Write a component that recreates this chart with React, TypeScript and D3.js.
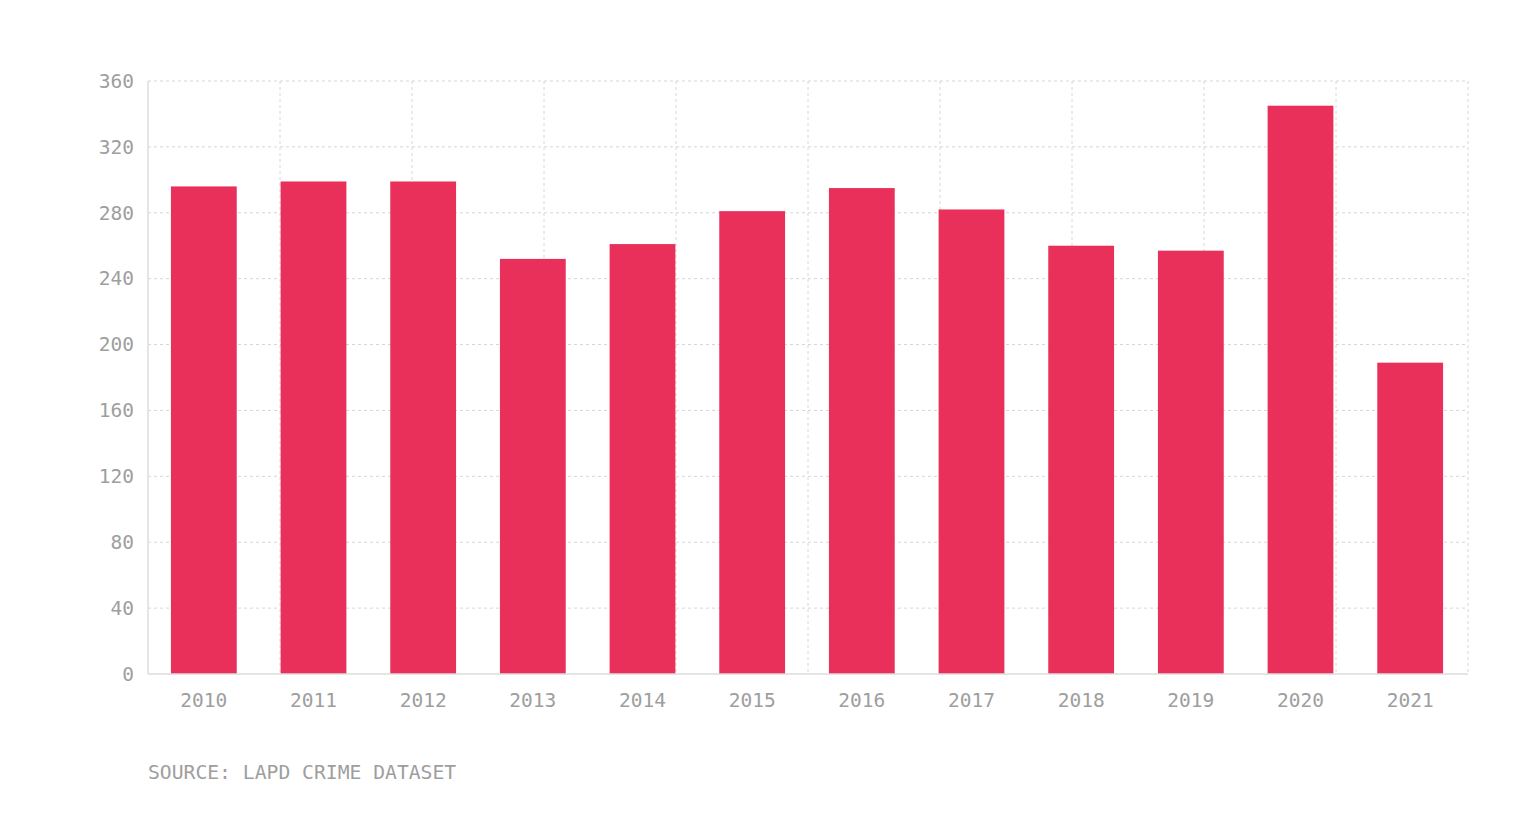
import React from "react";
import * as d3 from "d3";

const years = ["2010","2011","2012","2013","2014","2015","2016","2017","2018","2019","2020","2021"];
const counts = [296, 299, 299, 252, 261, 281, 295, 282, 260, 257, 345, 189];
const yTicks = [0, 40, 80, 120, 160, 200, 240, 280, 320, 360];
const vGrid = [0,1,2,3,4,5,6,7,8,9,10];
const source = "SOURCE: LAPD CRIME DATASET";

export default function App() {
  const W = 1536, H = 836;
  const left = 148, right = 1468, top = 81, bottom = 674;
  const x = d3.scaleBand().domain(years).range([left + 1, right - 3]).paddingInner(0.4).paddingOuter(0.2);
  const y = d3.scaleLinear().domain([0, 360]).range([bottom, top]);
  const gx = d3.scaleLinear().domain([0, 10]).range([left, right]);
  const font = "'DejaVu Sans Mono', 'Liberation Mono', monospace";
  const grey = "#9e9e9e";
  return (
    <svg width={W} height={H} style={{ position: "absolute", left: 0, top: 0 }}>
      <rect width={W} height={H} fill="#fff" />
      {yTicks.filter(t => t > 0).map(t => (
        <line key={"h" + t} x1={left} x2={right} y1={y(t)} y2={y(t)} stroke="#d6d6d6" strokeWidth={1} strokeDasharray="3,3" />
      ))}
      {vGrid.filter(v => v > 0).map(v => (
        <line key={"v" + v} x1={gx(v)} x2={gx(v)} y1={top} y2={bottom} stroke="#d6d6d6" strokeWidth={1} strokeDasharray="3,3" />
      ))}
      {years.map((yr, i) => (
        <rect key={yr} x={x(yr)} y={y(counts[i])} width={x.bandwidth()} height={bottom - y(counts[i])} fill="#e8305a" />
      ))}
      <line x1={left} x2={left} y1={top} y2={bottom} stroke="#dcdcdc" strokeWidth={1.5} />
      <line x1={left} x2={right} y1={bottom} y2={bottom} stroke="#dcdcdc" strokeWidth={1.5} />
      {yTicks.map(t => (
        <text key={"yt" + t} x={134} y={y(t)} dy="0.35em" textAnchor="end" fontFamily={font} fontSize={19.5} fill={grey}>{t}</text>
      ))}
      {years.map(yr => (
        <text key={"xt" + yr} x={(x(yr) as number) + x.bandwidth() / 2} y={707} textAnchor="middle" fontFamily={font} fontSize={19.5} fill={grey}>{yr}</text>
      ))}
      <text x={148} y={779} fontFamily={font} fontSize={19.7} fill={grey}>{source}</text>
    </svg>
  );
}
